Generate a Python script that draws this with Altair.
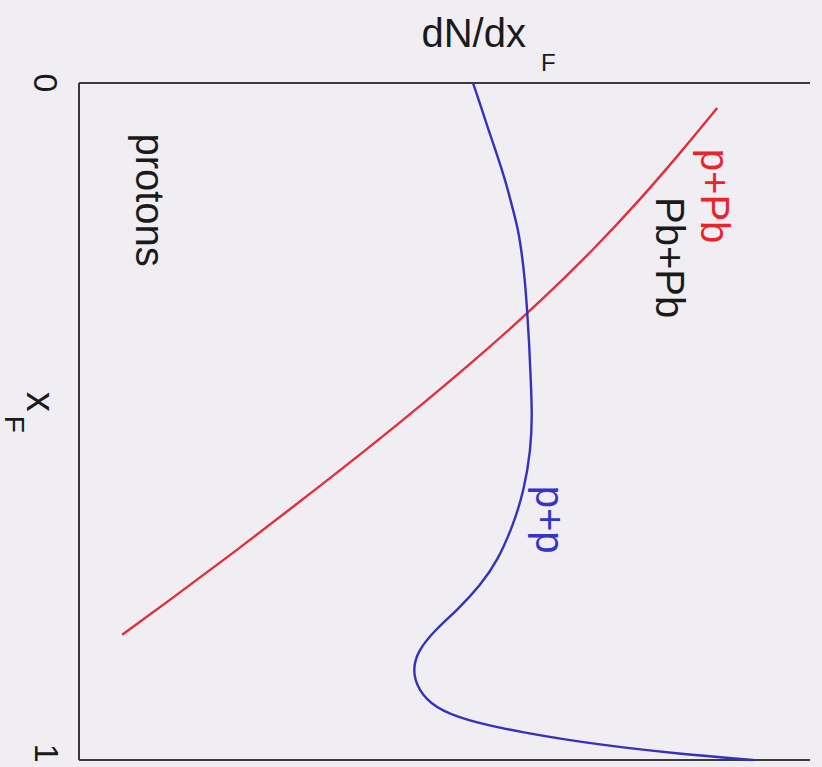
import altair as alt
import pandas as pd

# p+p proton spectrum: dN/dx_F (horizontal) versus x_F (vertical, 0 at top)
pp_xf = [0.000, 0.032, 0.069, 0.106, 0.143, 0.180, 0.217, 0.254, 0.291, 0.335,
         0.387, 0.439, 0.490, 0.542, 0.601, 0.653, 0.705, 0.742, 0.778, 0.808,
         0.838, 0.867, 0.897, 0.923, 0.941, 0.959, 0.978, 0.991, 1.000]
pp_dn = [0.539, 0.549, 0.560, 0.572, 0.583, 0.592, 0.601, 0.606, 0.610, 0.613,
         0.616, 0.618, 0.620, 0.618, 0.609, 0.594, 0.573, 0.549, 0.518, 0.487,
         0.464, 0.456, 0.464, 0.487, 0.528, 0.603, 0.713, 0.822, 0.922]

# p+Pb / Pb+Pb proton spectrum
pa_xf = [0.037, 0.099, 0.173, 0.247, 0.321, 0.394, 0.468, 0.542, 0.616, 0.690, 0.764, 0.815]
pa_dn = [0.873, 0.826, 0.767, 0.703, 0.633, 0.558, 0.477, 0.393, 0.305, 0.216, 0.124, 0.059]

# curve labels
label_text = ["protons", "p+Pb", "Pb+Pb", "p+p"]
label_dn = [0.094, 0.867, 0.806, 0.642]
label_xf = [0.173, 0.167, 0.258, 0.645]
label_color = ["#1a1a1a", "#e8242c", "#1a1a1a", "#3434c8"]

RED = "#e0303a"
BLUE = "#3232bc"
FRAME = "#3a3a3a"
FONT = "Liberation Sans"

x_scale = alt.Scale(domain=[0, 1], nice=False, zero=False)
y_scale = alt.Scale(domain=[0, 1], nice=False, zero=False, reverse=True)

pp = pd.DataFrame({"xf": pp_xf, "dn": pp_dn, "i": range(len(pp_xf))})
pa = pd.DataFrame({"xf": pa_xf, "dn": pa_dn, "i": range(len(pa_xf))})
labels = pd.DataFrame({"text": label_text, "dn": label_dn, "xf": label_xf, "color": label_color})

# frame: left edge (x_F axis), top edge (x_F = 0) and bottom edge (x_F = 1)
frame = pd.DataFrame({
    "x": [0, 0, 0], "x2": [0, 1, 1],
    "y": [0, 0, 1], "y2": [1, 0, 1],
})
frame_layer = alt.Chart(frame).mark_rule(color=FRAME, strokeWidth=2).encode(
    x=alt.X("x:Q", scale=x_scale, axis=None),
    x2="x2:Q",
    y=alt.Y("y:Q", scale=y_scale, axis=None),
    y2="y2:Q",
)


def curve(df, color):
    return alt.Chart(df).mark_line(color=color, strokeWidth=2.4, interpolate="basis").encode(
        x=alt.X("dn:Q", scale=x_scale, axis=None),
        y=alt.Y("xf:Q", scale=y_scale, axis=None),
        order="i:Q",
    )


red_layer = curve(pa, RED)
blue_layer = curve(pp, BLUE)

label_layer = alt.Chart(labels).mark_text(
    font=FONT, fontSize=40, angle=90, align="center", baseline="middle"
).encode(
    x=alt.X("dn:Q", scale=x_scale, axis=None),
    y=alt.Y("xf:Q", scale=y_scale, axis=None),
    text="text:N",
    color=alt.Color("color:N", scale=None),
)

# axis annotations: end values, x_F and the dN/dx_F heading
ann_text = ["0", "1", "x", "F", "dN/dx", "F"]
ann_dn = [-0.048, -0.047, -0.055, -0.090, 0.540, 0.642]
ann_xf = [0.000, 0.990, 0.471, 0.504, -0.071, -0.028]
ann_size = [34, 34, 40, 28, 40, 24]
ann_angle = [90, 90, 90, 90, 0, 0]
ann = pd.DataFrame({"text": ann_text, "dn": ann_dn, "xf": ann_xf,
                    "size": ann_size, "angle": ann_angle})

ann_layer = alt.Chart(ann).mark_text(
    font=FONT, color="#1a1a1a", align="center", baseline="middle"
).encode(
    x=alt.X("dn:Q", scale=x_scale, axis=None),
    y=alt.Y("xf:Q", scale=y_scale, axis=None),
    text="text:N",
    size=alt.Size("size:Q", scale=None, legend=None),
    angle=alt.Angle("angle:Q", scale=None),
)

chart = alt.layer(frame_layer, red_layer, blue_layer, label_layer, ann_layer).properties(
    width=731,
    height=677,
    padding={"left": 79, "top": 83, "right": 12, "bottom": 7},
    autosize="none",
    background="#f0eef3",
).configure_view(stroke=None)

chart.save("out.html", embed_options={"renderer": "svg", "actions": False})
